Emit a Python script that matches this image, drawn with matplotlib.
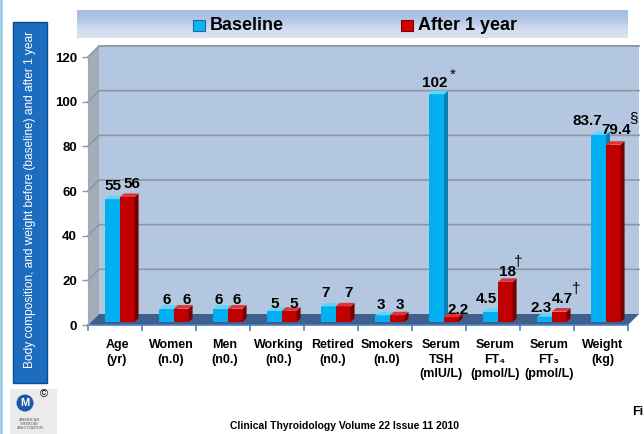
import numpy as np
import matplotlib.pyplot as plt
from matplotlib.patches import Rectangle, Polygon, Ellipse
from matplotlib.transforms import ScaledTranslation
from matplotlib.colors import LinearSegmentedColormap

categories = ["Age\n(yr)", "Women\n(n.0)", "Men\n(n0.)", "Working\n(n0.)", "Retired\n(n0.)",
              "Smokers\n(n.0)", "Serum\nTSH\n(mIU/L)", "Serum\nFT\u2084\n(pmol/L)",
              "Serum\nFT\u2083\n(pmol/L)", "Weight\n(kg)"]
baseline = [55, 6, 6, 5, 7, 3, 102, 4.5, 2.3, 83.7]
after = [56, 6, 6, 5, 7, 3, 2.2, 18, 4.7, 79.4]
baseline_marks = ["", "", "", "", "", "", "*", "", "", ""]
after_marks = ["", "", "", "", "", "", "", "\u2020", "\u2020", "\u00a7"]
yticks = [0, 20, 40, 60, 80, 100, 120]

DPI = 100
W, H = 644, 434
NARROW = ['Liberation Sans Narrow', 'Liberation Sans', 'DejaVu Sans']
ARIAL = ['Liberation Sans', 'DejaVu Sans']

# label nudges in pixels (dx, dy above bar top), per (group, series)
label_nudge = {(0, 0): (0, 9), (0, 1): (5, 9), (1, 0): (0, 5), (1, 1): (5, 5),
               (2, 0): (-2, 5), (2, 1): (1, 5), (3, 0): (0, 3), (3, 1): (4, 3),
               (4, 0): (-3, 9), (4, 1): (5, 9), (5, 0): (-2, 6), (5, 1): (3, 6),
               (6, 0): (-2, 7), (6, 1): (7, 3.5), (7, 0): (-4, 8.5), (7, 1): (2, 6),
               (8, 0): (-4, 5), (8, 1): (3, 9), (9, 0): (-11, 10.5), (9, 1): (3, 11)}
mark_nudge = {(6, 0): (16, 19), (7, 1): (13, 20), (8, 1): (17, 23), (9, 1): (20, 26.5)}

fig = plt.figure(figsize=(W / DPI, H / DPI), dpi=DPI)
fig.patch.set_facecolor('white')


def fx(px):
    return px / W


def fy(py):
    return 1 - py / H


# front plane of the 3d chart
ax = fig.add_axes([fx(88), fy(325), fx(628) - fx(88), fy(57) - fy(325)])
ax.set_xlim(0, 10)
ax.set_ylim(0, 120)
ax.patch.set_visible(False)

kx = 10 / 540.0
ky = 120 / 268.0
DX, DY = 11 * kx, 11 * ky

# back wall, side wall, floor
ax.add_patch(Rectangle((DX, DY), 10, 120, fc='#b3c7e1', ec='none', clip_on=False, zorder=0))
ax.plot([DX, 10 + DX], [120 + DY, 120 + DY], color='#9aa4ae', lw=1.2, clip_on=False, zorder=1)
ax.add_patch(Polygon([(0, 0), (DX, DY), (DX, 120 + DY), (0, 120)], fc='#a3adb9', ec='none',
                     clip_on=False, zorder=0.5))
for y in yticks[1:]:
    ax.plot([0, DX, 10 + DX], [y, y + DY, y + DY], color='#8d97a3', lw=1.2, clip_on=False, zorder=1)
ax.add_patch(Polygon([(0, 0), (10, 0), (10 + DX, DY), (DX, DY)], fc='#3f5f8c', ec='none',
                     clip_on=False, zorder=1.5))

mx, my = 5 * kx, 3 * ky
bw = 0.27
bx, by = 4 * kx, 3.5 * ky
cols = [('#00b0f0', '#0a7fb0', '#5fd4fa'), ('#c00000', '#760000', '#e03535')]


def bar3d(x0, v, c, z):
    front, side, top = c
    y0 = my
    ax.add_patch(Rectangle((x0, y0), bw, v, fc=front, ec='none', clip_on=False, zorder=z))
    ax.add_patch(Polygon([(x0 + bw, y0), (x0 + bw + bx, y0 + by), (x0 + bw + bx, y0 + v + by),
                          (x0 + bw, y0 + v)], fc=side, ec='none', clip_on=False, zorder=z))
    ax.add_patch(Polygon([(x0, y0 + v), (x0 + bw, y0 + v), (x0 + bw + bx, y0 + v + by),
                          (x0 + bx, y0 + v + by)], fc=top, ec='none', clip_on=False, zorder=z))


z = 2
for i in range(len(categories)):
    gc = i + 0.5
    for s, (vals, marks) in enumerate([(baseline, baseline_marks), (after, after_marks)]):
        v = vals[i]
        x0 = gc - bw + s * bw + mx
        bar3d(x0, v, cols[s], z)
        z += 0.1
        cx = x0 + bw / 2
        dx, dy = label_nudge[(i, s)]
        ax.text(cx + dx * kx, my + v + dy * ky, f"{v:g}", ha='center', va='baseline',
                fontsize=11, fontweight='bold', family=NARROW, zorder=10, clip_on=False)
        if marks[i]:
            mdx, mdy = mark_nudge[(i, s)]
            ax.text(cx + mdx * kx, my + v + mdy * ky, marks[i], ha='center', va='center',
                    fontsize=11, family=ARIAL, zorder=10, clip_on=False)
    ax.text(gc, 0, categories[i], ha='center', va='top', fontsize=9, fontweight='bold',
            family=NARROW, linespacing=1.3, multialignment='center',
            transform=ax.transData + ScaledTranslation(2 / DPI, -14 / DPI, fig.dpi_scale_trans))

ax.set_yticks(yticks)
ax.set_yticklabels([str(t) for t in yticks], fontsize=9.5, fontweight='bold', family=ARIAL)
ax.tick_params(axis='y', length=4, width=1, color='#8d97a3', pad=4)
ax.set_xticks(range(11))
ax.set_xticklabels([])
ax.tick_params(axis='x', length=4, width=1.2, color='#4e7fc4', direction='out')
for sp in ['top', 'right']:
    ax.spines[sp].set_visible(False)
ax.spines['left'].set_color('#a0a8b0')
ax.spines['bottom'].set_color('#4e7fc4')
ax.spines['bottom'].set_linewidth(1.2)
ax.spines['bottom'].set_zorder(1.6)

# legend band
lax = fig.add_axes([fx(77), fy(38), fx(628) - fx(77), fy(10) - fy(38)])
cmap = LinearSegmentedColormap.from_list('band', ['#a3bce1', '#b2c6e6', '#d0dcef', '#dae3f2'])
lax.imshow(np.linspace(0, 1, 50).reshape(-1, 1), aspect='auto', cmap=cmap, extent=[0, 1, 0, 1])
lax.axis('off')
fig.patches.append(Rectangle((fx(193), fy(31)), 12 / W, 11 / H, transform=fig.transFigure,
                             fc='#10b4ec', ec='#1070a0', lw=0.8))
fig.text(fx(210), fy(25), 'Baseline', fontsize=13, fontweight='bold', family=ARIAL, va='center')
fig.patches.append(Rectangle((fx(401), fy(31)), 12 / W, 11 / H, transform=fig.transFigure,
                             fc='#d00000', ec='#800000', lw=0.8))
fig.text(fx(418), fy(25), 'After 1 year', fontsize=13, fontweight='bold', family=ARIAL, va='center')

# vertical label box
fig.patches.append(Rectangle((fx(13), fy(383)), 34 / W, 361 / H, transform=fig.transFigure,
                             fc='#1c6cbf', ec='#0f4a8c', lw=1))
fig.text(fx(30), fy(200), 'Body composition, and weight before (baseline) and after 1 year',
         rotation=90, color='white', fontsize=8.6, family=ARIAL, ha='center', va='center')

# left border line
fig.add_artist(plt.Line2D([fx(1), fx(1)], [0, 1], color='#9dcdec', lw=2, transform=fig.transFigure))

# logo
fig.patches.append(Rectangle((fx(10), fy(434)), 47 / W, 45 / H, transform=fig.transFigure,
                             fc='#ebebeb', ec='none'))
fig.patches.append(Ellipse((fx(25), fy(403)), 17 / W, 17 / H, transform=fig.transFigure,
                           fc='#1a5aa8', ec='none'))
fig.text(fx(25), fy(403), 'M', color='white', fontsize=8, fontweight='bold', family=ARIAL,
         ha='center', va='center')
fig.text(fx(44), fy(394), '\u00a9', fontsize=8, family=ARIAL, ha='center', va='center')
fig.text(fx(29), fy(424), 'AMERICAN\nTHYROID\nASSOCIATION', fontsize=2.6, family='DejaVu Serif',
         ha='center', va='center', color='#444444', linespacing=1.1)

fig.text(fx(344), fy(426), 'Clinical Thyroidology Volume 22 Issue 11 2010', fontsize=7.5,
         fontweight='bold', family=ARIAL, ha='center', va='center')
fig.text(fx(632), fy(412), 'Fi', fontsize=9, fontweight='bold', family=ARIAL, ha='left', va='center')

fig.savefig('out.png', dpi=DPI)
